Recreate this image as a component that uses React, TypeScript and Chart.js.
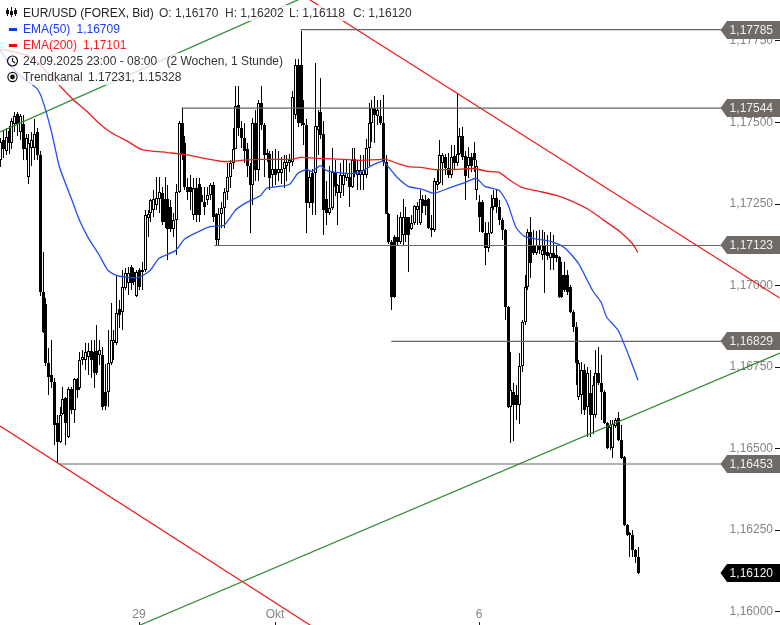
import React, { useEffect, useRef } from "react";
import { Chart, registerables, BarController } from "chart.js";

Chart.register(...registerables);

// Prices are written as fifth-decimal points above 1.00000 (17384 = 1,17384)
const opens = [
  17384,17445,17414,17473,17436,17494,17525,17470,17494,17420,
  17332,17423,17423,17470,17399,16979,16945,16762,16725,16704,
  16578,16520,16606,16654,16535,16682,16618,16713,16685,16771,
  16771,16780,16798,16795,16798,16786,16786,16673,16673,16762,
  16823,16823,16927,16918,16992,17007,17056,17041,16967,17047,
  17041,17047,17206,17224,17231,17246,17267,17283,17267,17267,
  17240,17175,17200,17286,17497,17436,17301,17301,17215,17298,
  17313,17277,17255,17261,17277,17307,17221,17139,17221,17237,
  17286,17332,17375,17420,17555,17482,17454,17420,17368,17307,
  17497,17353,17561,17491,17408,17405,17338,17359,17344,17344,
  17359,17368,17375,17378,17522,17675,17675,17500,17491,17252,
  17344,17344,17476,17531,17466,17267,17224,17237,17347,17283,
  17283,17307,17329,17332,17301,17387,17338,17338,17338,17338,
  17423,17497,17543,17519,17519,17500,17378,17221,17133,17148,
  17148,17133,17154,17209,17209,17175,17191,17231,17191,17267,
  17261,17267,17178,17169,17307,17316,17375,17393,17362,17338,
  17396,17375,17405,17460,17396,17368,17393,17408,17292,17255,
  17255,17160,17114,17160,17240,17270,17240,17200,17169,16933,
  16627,16673,16664,16633,16753,16887,16995,17163,17123,17099,
  17123,17093,17123,17102,17084,17099,17093,17087,17031,17031,
  17031,16995,16918,16872,16658,16664,16740,16627,16670,16602,
  16602,16731,16700,16673,16578,16563,16501,16569,16593,16526,
  16474,16265,16241,16235,16189,16167,
];
const highs = [
  17454,17476,17482,17488,17515,17531,17531,17525,17522,17466,
  17466,17470,17512,17482,17414,17102,16961,16808,16832,16716,
  16602,16627,16688,16658,16688,16688,16716,16716,16795,16802,
  16823,16823,16832,16832,16878,16832,16811,16759,16863,16946,
  16863,17031,16955,17047,17053,17056,17062,17053,17047,17053,
  17071,17231,17231,17267,17292,17332,17332,17301,17332,17307,
  17261,17224,17313,17506,17543,17460,17329,17338,17329,17329,
  17329,17301,17301,17301,17316,17319,17224,17237,17255,17298,
  17375,17384,17482,17613,17613,17506,17497,17436,17375,17515,
  17537,17568,17613,17497,17420,17414,17414,17420,17414,17393,
  17399,17399,17405,17598,17696,17696,17782,17568,17512,17353,
  17359,17684,17537,17635,17506,17322,17368,17421,17384,17313,
  17375,17384,17384,17375,17421,17421,17384,17399,17399,17451,
  17561,17568,17580,17568,17568,17583,17399,17224,17139,17154,
  17215,17227,17267,17240,17209,17215,17246,17255,17292,17277,
  17277,17270,17215,17329,17353,17445,17408,17405,17408,17430,
  17430,17589,17482,17485,17414,17424,17408,17439,17384,17277,
  17261,17194,17194,17277,17292,17292,17261,17206,17172,16936,
  16795,16700,16694,16792,16893,17031,17175,17209,17169,17166,
  17169,17169,17163,17154,17163,17154,17123,17090,17071,17071,
  17047,17001,16924,16887,16771,16765,16759,16750,16740,16722,
  16802,16811,16786,16679,16581,16587,16587,16593,16612,16572,
  16477,16268,16244,16250,16192,16198,
];
const lows = [
  17365,17390,17399,17405,17420,17470,17460,17445,17384,17384,
  17313,17368,17384,17384,16967,16854,16753,16664,16685,16511,
  16455,16517,16603,16511,16532,16606,16578,16655,16679,16756,
  16740,16725,16716,16685,16725,16756,16618,16618,16627,16756,
  16771,16817,16869,16863,16985,16970,16985,17001,16964,16985,
  16985,17041,17148,17194,17209,17231,17224,17185,17178,17077,
  17163,17148,17093,17283,17384,17292,17261,17231,17200,17194,
  17194,17255,17215,17246,17261,17194,17123,17123,17178,17178,
  17261,17298,17359,17420,17460,17423,17375,17332,17160,17246,
  17322,17322,17476,17332,17378,17292,17301,17307,17322,17313,
  17298,17322,17347,17368,17512,17485,17488,17430,17160,17237,
  17215,17215,17399,17451,17154,17185,17215,17231,17276,17185,
  17270,17276,17322,17240,17298,17332,17292,17292,17292,17329,
  17368,17439,17436,17491,17491,17368,17218,17129,16924,16961,
  17123,17129,17123,17133,17041,17169,17185,17185,17185,17224,
  17215,17175,17148,17163,17292,17313,17307,17338,17329,17329,
  17359,17368,17399,17384,17261,17329,17347,17347,17261,17163,
  17160,17062,17102,17157,17231,17224,17185,17139,16893,16624,
  16517,16523,16587,16575,16734,16878,16985,17022,17093,17093,
  17096,17077,16976,17077,17047,17047,17071,16961,16961,16979,
  16970,16915,16857,16694,16648,16606,16603,16535,16535,16544,
  16593,16694,16587,16575,16498,16495,16471,16563,16523,16468,
  16262,16232,16167,16167,16149,16115,
];
const closes = [
  17439,17420,17457,17436,17506,17519,17494,17519,17420,17454,
  17436,17445,17466,17399,16979,16857,16762,16719,16704,16572,
  16520,16602,16651,16578,16682,16618,16713,16679,16771,16780,
  16795,16798,16771,16731,16731,16802,16627,16630,16762,16832,
  16832,16915,16909,16995,17038,17038,17007,17010,17041,16995,
  17047,17215,17218,17261,17267,17270,17286,17194,17194,17175,
  17175,17200,17286,17497,17399,17301,17286,17286,17298,17215,
  17215,17255,17240,17277,17307,17209,17139,17221,17237,17286,
  17332,17375,17420,17552,17482,17454,17414,17368,17307,17497,
  17353,17561,17491,17399,17399,17329,17359,17338,17359,17359,
  17378,17378,17384,17577,17675,17500,17497,17491,17252,17332,
  17252,17488,17488,17463,17231,17224,17237,17347,17301,17307,
  17338,17338,17344,17301,17384,17344,17353,17353,17353,17423,
  17500,17543,17522,17537,17500,17378,17221,17133,16964,16964,
  17133,17209,17209,17154,17154,17191,17243,17243,17267,17243,
  17243,17178,17169,17322,17322,17399,17399,17362,17338,17393,
  17375,17405,17460,17393,17335,17393,17368,17384,17368,17209,
  17163,17114,17160,17240,17270,17240,17200,17169,16933,16627,
  16679,16633,16633,16753,16887,16995,17163,17068,17099,17123,
  17108,17108,17093,17090,17099,17084,17084,16964,16964,16985,
  16979,16918,16872,16762,16762,16740,16618,16731,16602,16694,
  16731,16700,16673,16578,16501,16572,16575,16587,16526,16471,
  16265,16235,16235,16189,16167,16120,
];

// EMA readings at sampled candle numbers
const ema50Index = [0,4,7,13,15,18,21,25,28,31,35,38,41,45,49,53,56,62,65,68,74,79,83,87,92,94,102,105,108,110,113,115,122,127,131,135,138,140,144,149,153,159,164,168,171,176,179,182,185,190,194,199,204,209,212,214,218,222,225];
const ema50Values = [17721,17672,17644,17604,17568,17476,17362,17270,17200,17148,17093,17047,17031,17025,17025,17047,17083,17108,17142,17157,17181,17185,17231,17255,17277,17298,17310,17344,17356,17350,17368,17353,17344,17347,17368,17381,17353,17332,17304,17295,17283,17301,17316,17329,17304,17292,17252,17178,17151,17142,17136,17117,17068,16985,16949,16903,16863,16780,16710];
const ema200Index = [0,6,12,16,21,26,31,35,39,45,50,59,65,72,78,82,85,92,98,103,106,113,121,127,136,140,144,149,153,160,167,172,176,180,184,190,196,201,208,213,219,223,225];
const ema200Values = [17724,17715,17696,17659,17613,17568,17531,17497,17470,17442,17417,17408,17402,17390,17381,17381,17384,17387,17387,17387,17393,17390,17387,17384,17387,17375,17365,17362,17356,17356,17359,17350,17347,17322,17301,17289,17277,17261,17231,17200,17163,17129,17102];

// Trend channel: [startIndex, startPrice, endIndex, endPrice]
const greenLowerChannel = [49, 1.159577, 275.1, 1.167933];
const greenUpperChannel = [0, 1.17471, 106, 1.178797];
const redLowerChannel = [0, 1.165694, 110, 1.159552];
const redUpperChannel = [109, 1.178776, 275, 1.169619];

// Horizontal price levels
const levelValues = [1.17785, 1.17544, 1.17123, 1.16829, 1.16453];
const levelStarts = [106, 64, 75.6, 138, 21];
const levelEnd = 256;
const lastPrice = 1.1612;

const priceTicks = [1.16, 1.1625, 1.165, 1.1675, 1.17, 1.1725, 1.175, 1.1775];
const dateTickIndex = [49, 97, 169];
const dateTickLabels = ["29", "Okt", "6"];

const FONT = "'Liberation Sans', Arial, sans-serif";
const fmt = (v: number) => v.toFixed(5).replace(".", ",");
const toPrice = (v: number) => 1 + v / 100000;

class CrispBarController extends BarController {
  static id = "crispBar";
  static defaults = BarController.defaults;
  static overrides = BarController.overrides;
  updateElement(el: any, index: number, props: any, mode: any) {
    props.x = Math.round(props.x) + 0.5;
    props.y = Math.round(props.y);
    props.base = Math.round(props.base);
    if (props.y === props.base) props.y -= 1;
    props.height = props.base - props.y;
    super.updateElement(el, index, props, mode);
  }
}
Chart.register(CrispBarController as any);

const legendPlugin = {
  id: "legendAndTags",
  afterDatasetsDraw(chart: any) {
    const ctx = chart.ctx;
    ctx.save();
    ctx.fillStyle = "rgba(255,255,255,0.78)";
    ctx.fillRect(0, 5, 412, 16);
    ctx.fillRect(0, 21, 122, 16);
    ctx.fillRect(0, 37, 130, 16);
    ctx.fillRect(0, 53, 285, 16);
    ctx.fillRect(0, 69, 185, 16);
    ctx.restore();
  },
  afterDraw(chart: any) {
    const ctx = chart.ctx;
    const yS = chart.scales.y;
    ctx.save();
    // price tags
    const tag = (value: number, fill: string, text: string) => {
      const y = Math.round(yS.getPixelForValue(value));
      ctx.fillStyle = fill;
      ctx.beginPath();
      ctx.moveTo(780, y - 9);
      ctx.lineTo(727, y - 9);
      ctx.lineTo(720.5, y);
      ctx.lineTo(727, y + 9);
      ctx.lineTo(780, y + 9);
      ctx.closePath();
      ctx.fill();
      ctx.fillStyle = text;
      ctx.font = `12px ${FONT}`;
      ctx.textAlign = "right";
      ctx.textBaseline = "middle";
      ctx.fillText(fmt(value), 773, y + 0.5);
    };
    levelValues.forEach((v) => tag(v, "#6f6a66", "#eeeeee"));
    tag(lastPrice, "#000000", "#eeeeee");

    // legend
    ctx.textAlign = "left";
    ctx.textBaseline = "middle";
    ctx.font = `12px ${FONT}`;
    const dark = "#333333";
    const write = (s: string, x: number, y: number, c: string) => {
      ctx.fillStyle = c;
      ctx.fillText(s, x, y + 1);
    };
    write("EUR/USD (FOREX, Bid)", 23, 13, "#222222");
    write("O: 1,16170", 159, 13, dark);
    write("H: 1,16202", 225, 13, dark);
    write("L: 1,16118", 289, 13, dark);
    write("C: 1,16120", 353, 13, dark);
    write("EMA(50)", 23, 29, "#1a3cff");
    write("1,16709", 76.5, 29, "#1a3cff");
    write("EMA(200)", 23, 45, "#ff1a1a");
    write("1,17101", 83, 45, "#ff1a1a");
    write("24.09.2025 23:00 - 08:00", 23, 61, dark);
    write("(2 Wochen, 1 Stunde)", 166.5, 61, dark);
    write("Trendkanal", 23, 77, dark);
    write("1.17231, 1.15328", 88, 77, dark);

    // series dashes
    ctx.fillStyle = "#0a37ff";
    ctx.fillRect(9, 28, 8, 3);
    ctx.fillStyle = "#ff0000";
    ctx.fillRect(9, 44, 8, 3);

    // icons
    ctx.strokeStyle = "#111111";
    ctx.fillStyle = "#111111";
    ctx.lineWidth = 1;
    [[7.5, 8, 16, 10, 14], [11.5, 7, 17, 11, 15], [15.5, 8, 16, 10, 14]].forEach(([x, a, b, c, d]) => {
      ctx.beginPath();
      ctx.moveTo(x, a);
      ctx.lineTo(x, b);
      ctx.stroke();
      ctx.fillRect(x - 1.5, c, 3, d - c);
    });
    ctx.lineWidth = 1.2;
    ctx.beginPath();
    ctx.arc(12.5, 61, 5, 0, Math.PI * 2);
    ctx.moveTo(12.5, 58);
    ctx.lineTo(12.5, 61);
    ctx.lineTo(15, 63);
    ctx.stroke();
    ctx.beginPath();
    ctx.arc(12.5, 77, 4.6, 0, Math.PI * 2);
    ctx.stroke();
    ctx.beginPath();
    ctx.arc(12.5, 77, 2.4, 0, Math.PI * 2);
    ctx.fill();
    ctx.restore();
  },
};

const segment = (t: number[], color: string, w = 1) => ({
  type: "line" as const,
  data: [{ x: t[0], y: t[1] }, { x: t[2], y: t[3] }],
  borderColor: color,
  borderWidth: w,
  pointRadius: 0,
  clip: false as any,
  order: 1,
});

export default function App() {
  const ref = useRef<HTMLCanvasElement>(null);
  useEffect(() => {
    if (!ref.current) return;
    const idx = opens.map((_, i) => i);
    const chart = new Chart(ref.current, {
      type: "bar",
      data: {
        datasets: [
          {
            type: "crispBar" as any,
            label: "Wicks",
            data: idx.map((i) => ({ x: i, y: [toPrice(lows[i]), toPrice(highs[i])] })) as any,
            backgroundColor: "#000000",
            barThickness: 1,
            grouped: false,
            inflateAmount: 0,
            order: 6,
          } as any,
          {
            type: "crispBar" as any,
            label: "Bodies",
            data: idx.map((i) => ({
              x: i,
              y: [toPrice(Math.min(opens[i], closes[i])), toPrice(Math.max(opens[i], closes[i]))],
            })) as any,
            backgroundColor: idx.map((i) => (closes[i] >= opens[i] ? "#ffffff" : "#000000")),
            borderColor: "#000000",
            borderWidth: 1,
            borderSkipped: false,
            barThickness: 3,
            grouped: false,
            inflateAmount: 0,
            order: 5,
          } as any,
          ...levelValues.map((v, i) => segment([levelStarts[i], v, levelEnd, v], "#666666", 1.1)),
          segment(greenLowerChannel, "#2f8a35", 1.25),
          segment(greenUpperChannel, "#2f8a35", 1.25),
          segment(redLowerChannel, "#f01e1e", 1.25),
          segment(redUpperChannel, "#f01e1e", 1.25),
          {
            type: "line",
            label: "EMA(50)",
            data: ema50Index.map((x, i) => ({ x, y: toPrice(ema50Values[i]) })),
            borderColor: "#1f4ff0",
            borderWidth: 1.3,
            pointRadius: 0,
            tension: 0.2,
            order: 0,
          },
          {
            type: "line",
            label: "EMA(200)",
            data: ema200Index.map((x, i) => ({ x, y: toPrice(ema200Values[i]) })),
            borderColor: "#f01e1e",
            borderWidth: 1.3,
            pointRadius: 0,
            tension: 0.2,
            order: 0,
          },
        ],
      },
      options: {
        responsive: false,
        animation: false,
        events: [],
        layout: { padding: 0 },
        plugins: { legend: { display: false }, tooltip: { enabled: false } },
        scales: {
          x: {
            type: "linear",
            min: -0.035,
            max: 273.35,
            offset: false,
            grid: { drawOnChartArea: false, offset: false, tickLength: 3, tickColor: "#222222" },
            border: { display: false },
            afterBuildTicks: (s: any) => {
              s.ticks = dateTickIndex.map((value) => ({ value }));
            },
            afterFit: (s: any) => {
              s.height = 3;
              s.paddingLeft = 0;
              s.paddingRight = 0;
            },
            ticks: {
              mirror: true,
              padding: 0,
              maxRotation: 0,
              autoSkip: false,
              color: "#858585",
              font: { family: FONT, size: 12 },
              callback: (v: any) => dateTickLabels[dateTickIndex.indexOf(v)] ?? "",
            },
          },
          y: {
            type: "linear",
            position: "right",
            min: 1.159684,
            max: 1.178757,
            grid: { drawOnChartArea: false, offset: false, tickLength: 5, tickColor: "#111111" },
            border: { display: false },
            afterBuildTicks: (s: any) => {
              s.ticks = priceTicks.map((value) => ({ value }));
            },
            afterFit: (s: any) => {
              s.width = 5;
              s.paddingTop = 0;
              s.paddingBottom = 0;
            },
            ticks: {
              mirror: true,
              padding: -2,
              autoSkip: false,
              color: "#858585",
              font: { family: FONT, size: 12 },
              callback: (v: any) => fmt(Number(v)),
            },
          },
        },
      } as any,
      plugins: [legendPlugin as any],
    });
    return () => chart.destroy();
  }, []);
  return (
    <div style={{ position: "fixed", left: 0, top: 0, width: 780, height: 625, background: "#fff" }}>
      <canvas ref={ref} width={780} height={625} style={{ display: "block" }} />
    </div>
  );
}
